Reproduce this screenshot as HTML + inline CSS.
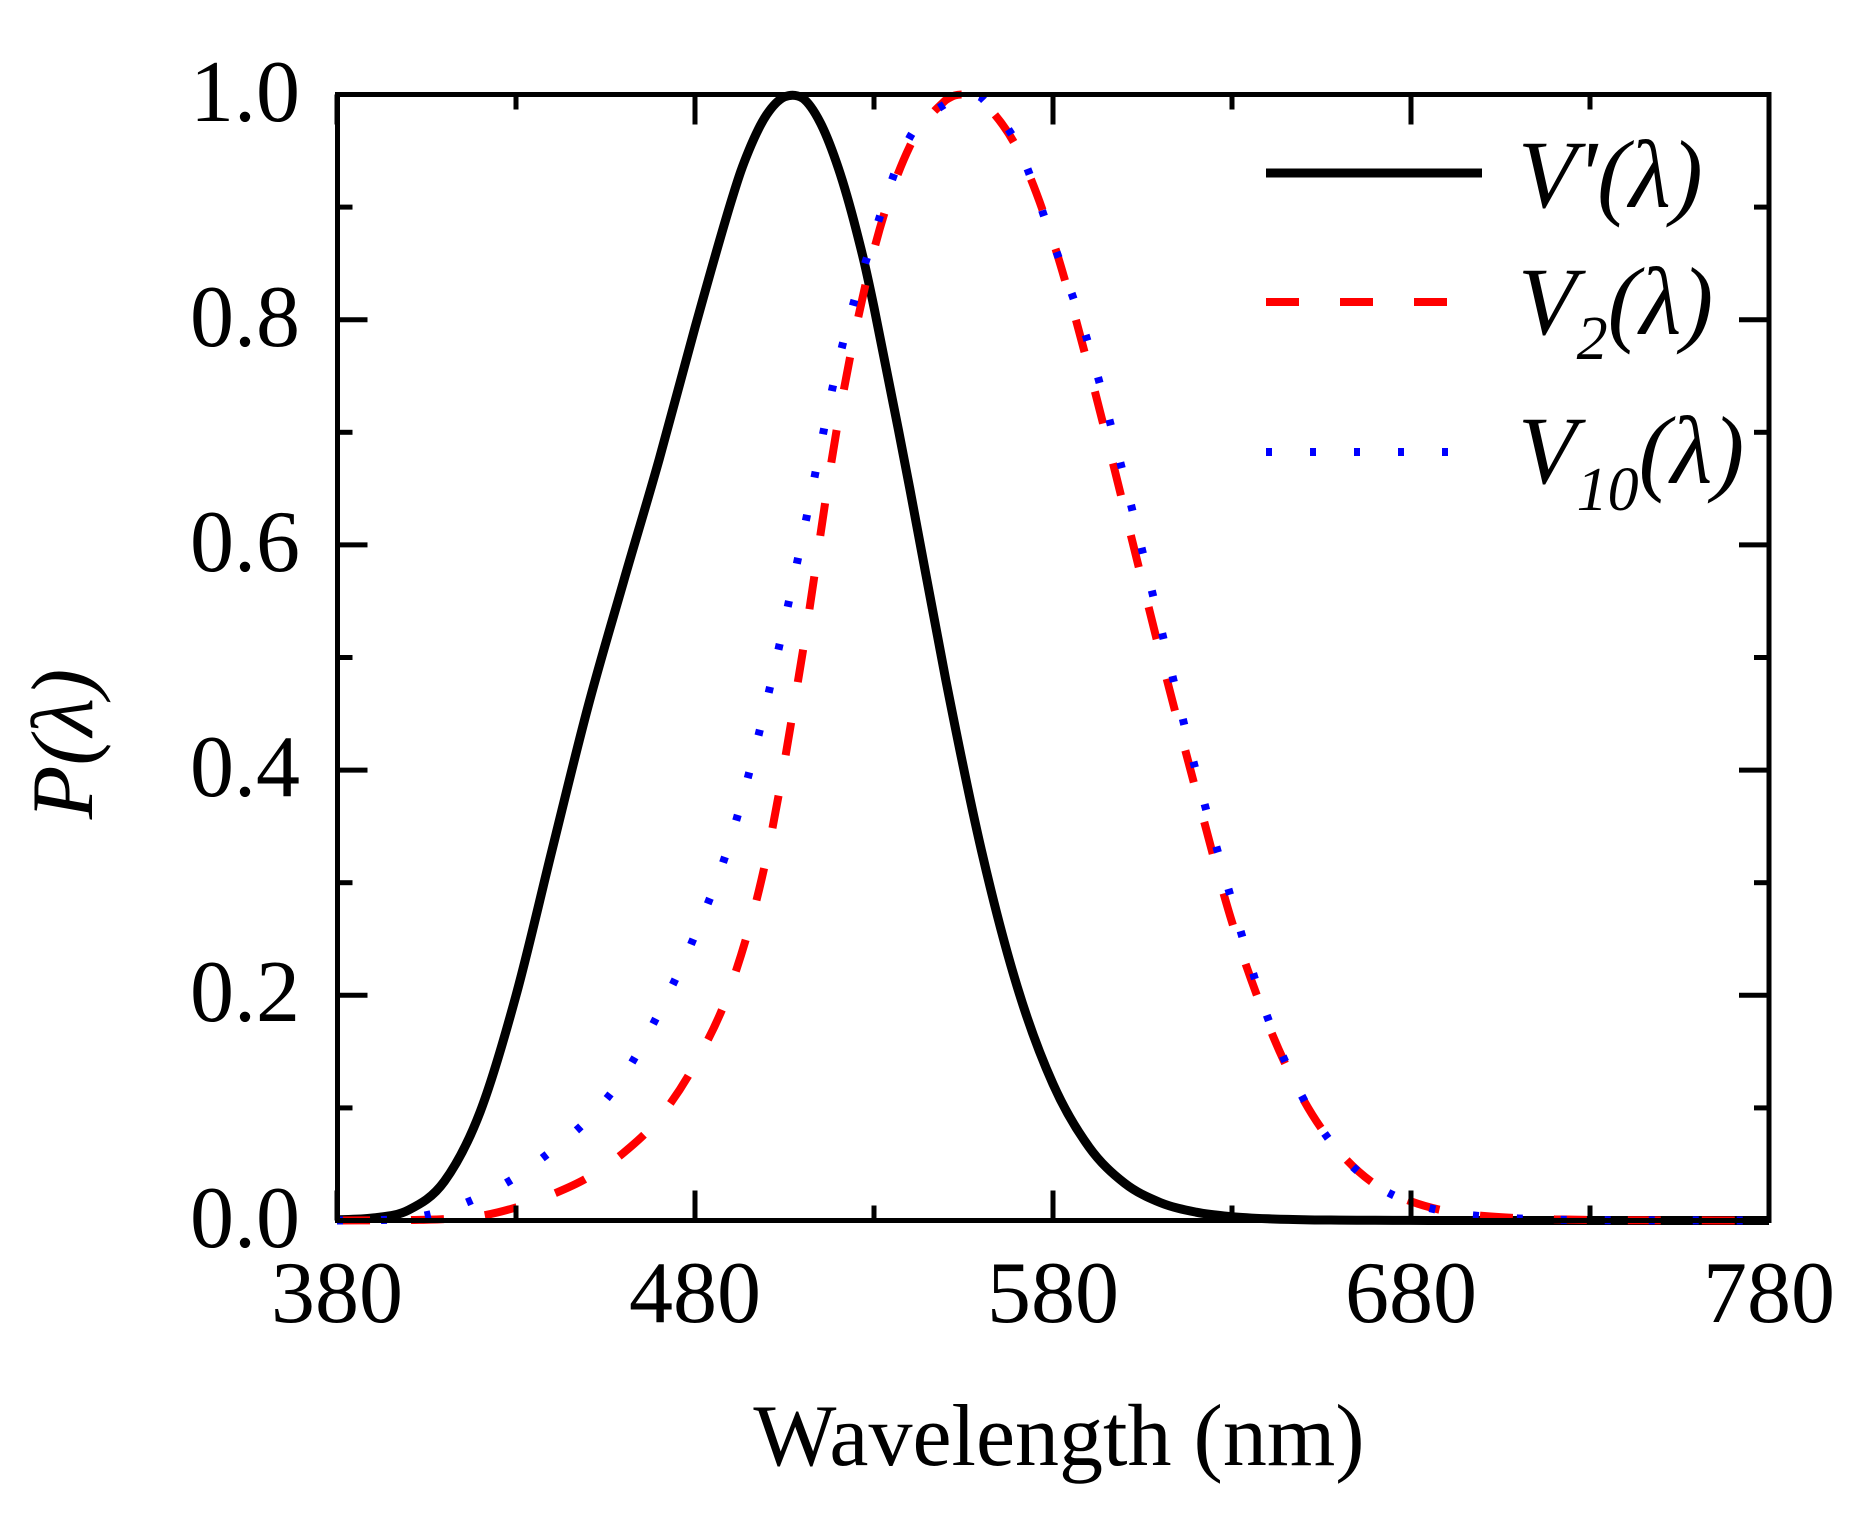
<!DOCTYPE html>
<html><head><meta charset="utf-8">
<style>html,body{margin:0;padding:0;background:#fff;}svg{display:block;}</style>
</head><body>
<svg id="s" width="1853" height="1525" viewBox="0 0 1853 1525" xmlns="http://www.w3.org/2000/svg" font-family="'Liberation Serif', serif">
<rect width="1853" height="1525" fill="#fff"/>
<g id="curves" fill="none" stroke-linejoin="round"></g>
<g id="ticks" stroke="#000" stroke-width="5"></g>
<rect x="337.5" y="94.5" width="1431.5" height="1126" fill="none" stroke="#000" stroke-width="5"/>
<g font-size="88" fill="#000" text-anchor="end">
<text x="300" y="121">1.0</text>
<text x="300" y="346">0.8</text>
<text x="300" y="571">0.6</text>
<text x="300" y="796">0.4</text>
<text x="300" y="1021">0.2</text>
<text x="300" y="1247">0.0</text>
</g>
<g font-size="88" fill="#000" text-anchor="middle">
<text x="337" y="1322">380</text>
<text x="695" y="1322">480</text>
<text x="1053" y="1322">580</text>
<text x="1411" y="1322">680</text>
<text x="1769" y="1322">780</text>
<text x="1059" y="1465">Wavelength (nm)</text>
<text x="92" y="744" font-style="italic" transform="rotate(-90 92 744)">P(λ)</text>
</g>
<line x1="1266" y1="173" x2="1482" y2="173" stroke="#000" stroke-width="9"/>
<line x1="1266" y1="302" x2="1482" y2="302" stroke="#f00" stroke-width="8" stroke-dasharray="33 41"/>
<line x1="1266" y1="452" x2="1482" y2="452" stroke="#00f" stroke-width="8" stroke-dasharray="6 38"/>
<g font-size="96" font-style="italic" fill="#000">
<text x="1518" y="207">V'(λ)</text>
<text x="1518" y="334">V<tspan dy="25" font-size="62">2</tspan><tspan dy="-25">(λ)</tspan></text>
<text x="1518" y="483">V<tspan dy="27" font-size="62">10</tspan><tspan dy="-27">(λ)</tspan></text>
</g>
</svg>
<script>
var X=function(l){return 337+(l-380)*3.58;};
var Y=function(v){return 1220.5-v*1126;};
var NS="http://www.w3.org/2000/svg";
var tg=document.getElementById('ticks');
function ln(x1,y1,x2,y2){var e=document.createElementNS(NS,'line');e.setAttribute('x1',x1);e.setAttribute('y1',y1);e.setAttribute('x2',x2);e.setAttribute('y2',y2);tg.appendChild(e);}
for(var l=380;l<=780;l+=50){var len=((l-380)%100==0)?30:15;var x=X(l);ln(x,1220.5,x,1220.5-len);ln(x,94.5,x,94.5+len);}
for(var i=0;i<=10;i++){var len=(i%2==0)?30:15;var y=Y(i/10);ln(337.5,y,337.5+len,y);ln(1769,y,1769-len,y);}
var sc=[0.000589,0.002209,0.00929,0.03484,0.0966,0.1998,0.3281,0.455,0.567,0.676,0.793,0.904,0.982,0.997,0.935,0.811,0.650,0.481,0.3288,0.2076,0.1212,0.0655,0.03315,0.01593,0.00737,0.003335,0.001497,0.000677,0.000313,0.000148,0.0000715,0.0000353,0.0000178,0,0,0,0,0,0,0,0];
var v2=[0.000039,0.00012,0.000396,0.00121,0.004,0.0116,0.023,0.038,0.06,0.09098,0.13902,0.20802,0.323,0.503,0.71,0.862,0.954,0.99495,0.995,0.952,0.87,0.757,0.631,0.503,0.381,0.265,0.175,0.107,0.061,0.032,0.017,0.00821,0.004102,0.002091,0.001047,0.00052,0.000249,0.00012,0.00006,0.00003,0.000015];
var v10=[0.00001,0.000253,0.002,0.0088,0.0214,0.0387,0.0621,0.0895,0.1282,0.1852,0.2536,0.3391,0.4608,0.6067,0.7618,0.8752,0.962,0.9918,0.9973,0.9555,0.8689,0.7774,0.6583,0.528,0.398,0.2835,0.1798,0.1076,0.0603,0.0318,0.0159,0.0077,0.0037,0.0018,0.0008,0.0004,0.0002,0.0001,0.00005,0.00002,0.00001];
function pts(arr,extra){var p=[];for(var i=0;i<arr.length;i++)p.push([380+10*i,arr[i]]);if(extra){extra.forEach(function(e){p.push(e);});p.sort(function(a,b){return a[0]-b[0];});}return p.map(function(q){return [X(q[0]),Y(q[1])];});}
function cr(p){var d='M'+p[0][0].toFixed(1)+','+p[0][1].toFixed(1);for(var i=0;i<p.length-1;i++){var p0=p[i-1]||p[i],p1=p[i],p2=p[i+1],p3=p[i+2]||p2;var c1x=p1[0]+(p2[0]-p0[0])/6,c1y=p1[1]+(p2[1]-p0[1])/6,c2x=p2[0]-(p3[0]-p1[0])/6,c2y=p2[1]-(p3[1]-p1[1])/6;c1y=Math.min(c1y,1220.5);c2y=Math.min(c2y,1220.5);c1y=Math.max(c1y,94.5);c2y=Math.max(c2y,94.5);d+=' C'+c1x.toFixed(1)+','+c1y.toFixed(1)+' '+c2x.toFixed(1)+','+c2y.toFixed(1)+' '+p2[0].toFixed(1)+','+p2[1].toFixed(1);}return d;}
var cg=document.getElementById('curves');
function path(d,col,w,da){var e=document.createElementNS(NS,'path');e.setAttribute('d',d);e.setAttribute('stroke',col);e.setAttribute('stroke-width',w);if(da)e.setAttribute('stroke-dasharray',da);cg.appendChild(e);}
path(cr(pts(sc,[[495,0.950],[505,0.998],[515,0.975],[525,0.880]])),'#000',9);
path(cr(pts(v2,[[555,1.0]])),'#f00',8,'33 41');
path(cr(pts(v10,[[557,1.0]])),'#00f',8,'6 38');
</script>
</body></html>
